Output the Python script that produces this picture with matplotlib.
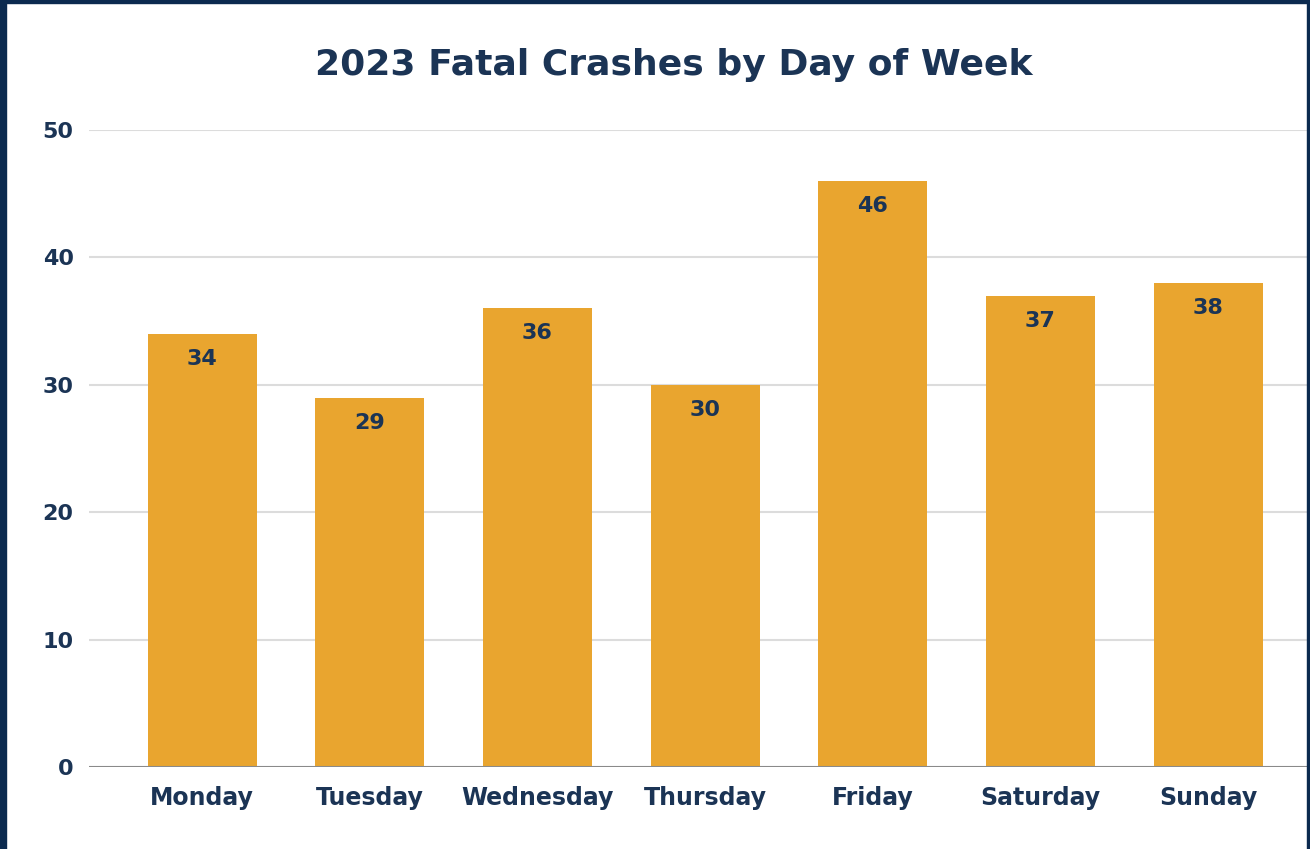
import matplotlib
matplotlib.use("Agg")
import matplotlib.pyplot as plt
from matplotlib.patches import Rectangle

days = ["Monday", "Tuesday", "Wednesday", "Thursday", "Friday", "Saturday", "Sunday"]
crashes = [34, 29, 36, 30, 46, 37, 38]
yticks = [0, 10, 20, 30, 40, 50]

NAVY = "#1b3455"
BAR = "#e9a52f"

plt.rcParams["font.family"] = ["DejaVu Sans"]

W, H = 1310, 849
fig = plt.figure(figsize=(W / 100, H / 100), dpi=100, facecolor="white")
ax = fig.add_axes([89 / W, 82 / H, 1219 / W, 637 / H])

x = range(len(days))
bars = ax.bar(x, crashes, width=0.65, color=BAR, zorder=3)
for b, v in zip(bars, crashes):
    ax.annotate(str(v), (b.get_x() + b.get_width() / 2, v), xytext=(0, -18),
                textcoords="offset points", ha="center", va="center",
                fontsize=16, fontweight="bold", color=NAVY, zorder=4)

ax.set_xlim(-0.674, 6.596)
ax.set_ylim(0, 50)
ax.set_yticks(yticks)
ax.set_xticks(list(x))
ax.set_xticklabels(days)
ax.grid(axis="y", color="#dcdcdc", linewidth=1.5, zorder=0)
ax.axhline(0, color="#8a8a8a", linewidth=2.2, zorder=4)
for s in ax.spines.values():
    s.set_visible(False)
ax.tick_params(length=0, labelsize=16, labelcolor=NAVY)
ax.tick_params(axis="x", labelsize=17, pad=14)
ax.tick_params(axis="y", pad=11)
for lab in ax.get_xticklabels() + ax.get_yticklabels():
    lab.set_fontweight("bold")

fig.text(674 / W, 1 - 65 / H, "2023 Fatal Crashes by Day of Week", ha="center",
         va="center", fontsize=26, fontweight="bold", color=NAVY)

# dark frame on left, top and right edges
frame = "#0b2a4f"
fig.patches.append(Rectangle((0, 0), 6 / W, 1, transform=fig.transFigure, color=frame, zorder=10))
fig.patches.append(Rectangle((0, 1 - 3 / H), 1, 3 / H, transform=fig.transFigure, color=frame, zorder=10))
fig.patches.append(Rectangle((1 - 3 / W, 0), 3 / W, 1, transform=fig.transFigure, color=frame, zorder=10))

fig.savefig("out.png", dpi=100, facecolor="white")
